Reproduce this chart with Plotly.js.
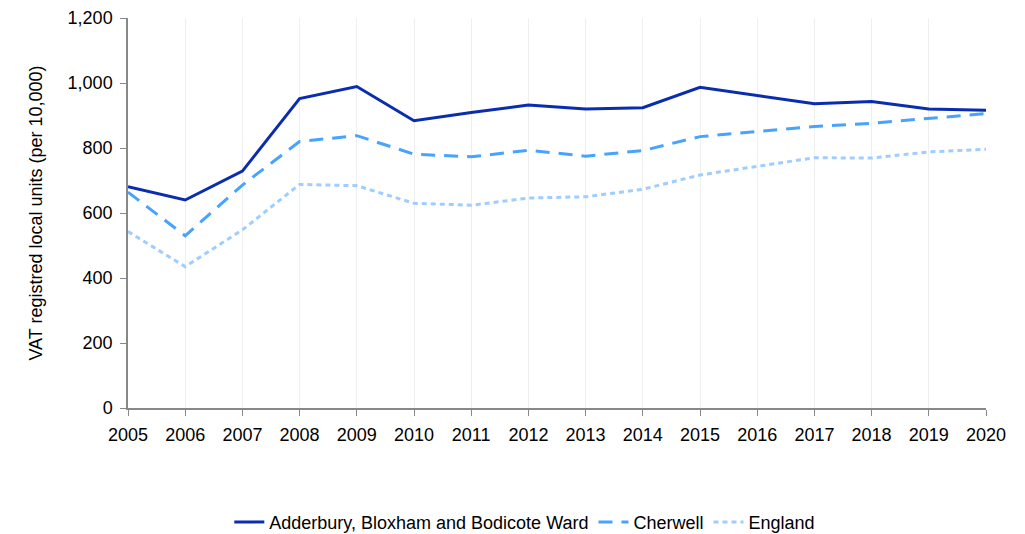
<!DOCTYPE html>
<html>
<head>
<meta charset="utf-8">
<script src="https://cdn.plot.ly/plotly-3.0.1.min.js"></script>
<style>html,body{margin:0;padding:0;background:#fff;}#chart{width:1025px;height:534px;}</style>
</head>
<body>
<div id="chart"></div>
<script>
const years = [2005,2006,2007,2008,2009,2010,2011,2012,2013,2014,2015,2016,2017,2018,2019,2020];
const adderbury = [681,640,729,952,989,884,909,932,920,924,987,961,936,943,920,916];
const cherwell = [664,530,686,820,838,781,773,793,775,792,835,850,866,876,890,906];
const england = [543,435,548,688,684,630,624,646,650,673,717,743,770,769,788,796];
const seriesNames = ["Adderbury, Bloxham and Bodicote Ward","Cherwell","England"];
const yTicks = [0,200,400,600,800,1000,1200];
const yTickText = ["0","200","400","600","800","1,000","1,200"];

const traces = [
  {x: years, y: adderbury, name: seriesNames[0], mode: "lines", line: {color: "#0a2db0", width: 3}},
  {x: years, y: cherwell, name: seriesNames[1], mode: "lines", line: {color: "#47a3ff", width: 3, dash: "14px,9px"}},
  {x: years, y: england, name: seriesNames[2], mode: "lines", line: {color: "#9fcdff", width: 3, dash: "5px,4px"}}
];

const layout = {
  width: 1025, height: 534,
  margin: {l: 128, r: 39, t: 18, b: 126, autoexpand: false},
  paper_bgcolor: "#fff", plot_bgcolor: "#fff",
  font: {family: "Liberation Sans, Arial, sans-serif", size: 18, color: "#000"},
  showlegend: true,
  legend: {orientation: "h", x: 0.512, xanchor: "center", xref: "container", y: 0.022, yanchor: "middle", yref: "container", font: {size: 18}, tracegroupgap: 0},
  xaxis: {
    range: [2005, 2020], tickmode: "array", tickvals: years, ticktext: years.map(String),
    showgrid: true, gridcolor: "#efefef", gridwidth: 1.2,
    showline: true, linecolor: "#888", linewidth: 1.5,
    ticks: "outside", ticklen: 6, tickcolor: "#888", zeroline: false,
    ticklabelstandoff: 4
  },
  yaxis: {
    range: [0, 1200], tickmode: "array", tickvals: yTicks, ticktext: yTickText,
    showgrid: false, showline: true, linecolor: "#888", linewidth: 1.5,
    ticks: "outside", ticklen: 6, tickcolor: "#888", zeroline: false,
    ticklabelstandoff: 4,
    title: {text: "VAT registred local units (per 10,000)", font: {size: 18}, standoff: 20}
  }
};
Plotly.newPlot("chart", traces, layout, {displayModeBar: false});
</script>
</body>
</html>
